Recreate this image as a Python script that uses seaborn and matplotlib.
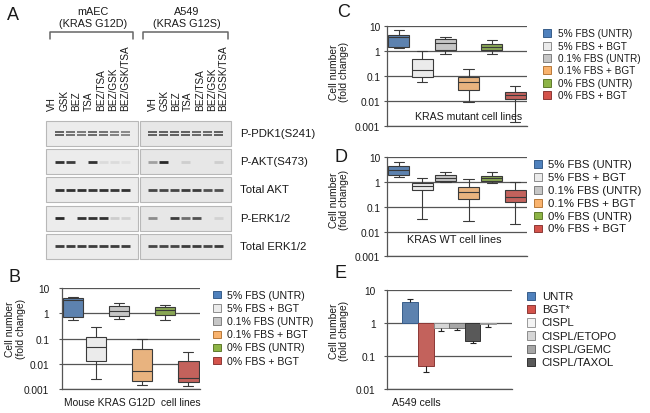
import numpy as np
import pandas as pd
import matplotlib
matplotlib.use("Agg")
import matplotlib.pyplot as plt
import seaborn as sns
from matplotlib.patches import Rectangle
from matplotlib.colors import to_rgba
from matplotlib.ticker import NullLocator

# ---- data -----------------------------------------------------------------
# panel A: western blot, band intensity per lane (0 = no band, 1 = dark)
lanes = ["VH", "GSK", "BEZ", "TSA", "BEZ/TSA", "BEZ/GSK", "BEZ/GSK/TSA"]
cell_groups = ["mAEC\n(KRAS G12D)", "A549\n(KRAS G12S)"]
blot_rows = ["P-PDK1(S241)", "P-AKT(S473)", "Total AKT", "P-ERK1/2", "Total ERK1/2"]
mAEC_bands = [
    [0.85, 0.75, 0.70, 0.80, 0.75, 0.65, 0.60],
    [0.90, 0.85, 0.00, 0.90, 0.08, 0.08, 0.05],
    [0.90, 0.90, 0.90, 0.88, 0.90, 0.88, 0.90],
    [0.95, 0.00, 0.90, 0.90, 0.90, 0.15, 0.12],
    [0.85, 0.85, 0.85, 0.85, 0.85, 0.85, 0.85],
]
a549_bands = [
    [0.85, 0.85, 0.85, 0.85, 0.80, 0.80, 0.85],
    [0.35, 0.95, 0.00, 0.12, 0.00, 0.00, 0.12],
    [0.80, 0.80, 0.80, 0.85, 0.85, 0.75, 0.75],
    [0.45, 0.00, 0.85, 0.60, 0.75, 0.00, 0.10],
    [0.80, 0.80, 0.80, 0.85, 0.85, 0.80, 0.85],
]

# panels B-D: box summaries per condition (low whisker, q1, median, q3, high whisker)
conditions = ["5% FBS (UNTR)", "5% FBS + BGT", "0.1% FBS (UNTR)",
              "0.1% FBS + BGT", "0% FBS (UNTR)", "0% FBS + BGT"]
b_boxes = [
    [0.57, 0.75, 3.44, 4.13, 4.39],
    [0.0026, 0.013, 0.048, 0.116, 0.28],
    [0.59, 0.77, 1.22, 2.05, 2.5],
    [0.00144, 0.00214, 0.005, 0.040, 0.10],
    [0.57, 0.90, 1.34, 1.76, 2.24],
    [0.00136, 0.0019, 0.00265, 0.0126, 0.0286],
]
c_boxes = [
    [1.36, 1.45, 3.9, 4.64, 7.4],
    [0.061, 0.097, 0.185, 0.49, 1.06],
    [0.81, 1.17, 2.15, 3.1, 3.63],
    [0.0091, 0.029, 0.061, 0.091, 0.196],
    [0.76, 1.1, 1.5, 1.9, 2.9],
    [0.00145, 0.0124, 0.018, 0.024, 0.042],
]
d_boxes = [
    [1.63, 1.96, 3.1, 4.6, 6.7],
    [0.031, 0.49, 0.69, 0.885, 1.45],
    [0.97, 1.13, 1.49, 1.85, 2.5],
    [0.0267, 0.215, 0.40, 0.65, 1.28],
    [0.91, 1.1, 1.4, 1.74, 2.5],
    [0.0203, 0.154, 0.25, 0.48, 1.0],
]

# panel E: A549 cells, bars drawn from 1, error bar end values
treatments = ["UNTR", "BGT*", "CISPL", "CISPL/ETOPO", "CISPL/GEMC", "CISPL/TAXOL"]
bar_order = ["UNTR", "BGT*", "CISPL/ETOPO", "CISPL/GEMC", "CISPL/TAXOL", "CISPL"]
bar_fold = [4.34, 0.048, 0.71, 0.71, 0.28, 0.95]
bar_err_end = [5.1, 0.033, 0.58, 0.60, 0.24, 0.73]

y_ticks = [0.001, 0.01, 0.1, 1, 10]
y_tick_labels = ["0.001", "0.01", "0.1", "1", "10"]

# ---- style ----------------------------------------------------------------
box_colors = ["#4f81bd", "#ebebeb", "#c6c6c6", "#f9b36e", "#8db446", "#d4534b"]
box_edges = ["#385d8a", "#8c8c8c", "#7f7f7f", "#b7793a", "#5f7a2c", "#8c3836"]
treat_colors = ["#4f81bd", "#d4534b", "#f4f4f4", "#d6d6d6", "#a6a6a6", "#595959"]
treat_edges = ["#385d8a", "#8c3836", "#9a9a9a", "#8c8c8c", "#6e6e6e", "#333333"]

sns.set_theme(style="white")
plt.rcParams["font.family"] = ["Liberation Sans", "DejaVu Sans"]
TXT = "#1a1a1a"

W, H = 650, 414
fig = plt.figure(figsize=(6.5, 4.14), dpi=100)


def fx(x):
    return x / W


def fy(y):
    return 1 - y / H


def px_axes(x0, y0, x1, y1):
    return fig.add_axes([fx(x0), fy(y1), (x1 - x0) / W, (y1 - y0) / H])


# ---- panel A ----------------------------------------------------------------
axa = px_axes(0, 0, 330, 265)
axa.set_xlim(0, 330)
axa.set_ylim(265, 0)
axa.axis("off")

row_tops = [122, 150, 178, 206.5, 234.5]
row_h = 25
boxes_x = [(46, 137.7), (140, 231)]
lane_x = [np.linspace(59.7, 125.5, 7), np.linspace(152.5, 218, 7)]
label_x = [np.linspace(52, 125, 7), np.linspace(152.5, 223.5, 7)]
bg = ["#ececec", "#e7e7e7"]

for g, (bands, (x0, x1)) in enumerate(zip([mAEC_bands, a549_bands], boxes_x)):
    for r, top in enumerate(row_tops):
        axa.add_patch(Rectangle((x0, top), x1 - x0, row_h, facecolor=bg[g],
                                edgecolor="#b8b8b8", lw=0.8))
        yc = top + row_h / 2
        for lx, val in zip(lane_x[g], bands[r]):
            col = to_rgba("#1e1e1e", val)
            if r == 0:
                axa.hlines([yc - 1.6, yc + 1.6], lx - 4.5, lx + 4.5, color=col, lw=1.1)
            else:
                axa.hlines(yc, lx - 4.5, lx + 4.5, color=col, lw=2.0)
    for lx, name in zip(label_x[g], lanes):
        axa.text(lx, 111, name, rotation=90, ha="center", va="bottom",
                 fontsize=7.2, color=TXT)
    cx = (boxes_x[g][0] + boxes_x[g][1]) / 2 + 1
    axa.text(cx, 18, cell_groups[g], ha="center", va="center", fontsize=7.8,
             color=TXT, linespacing=1.35)

for x0, x1 in [(50, 133), (143, 228)]:
    axa.plot([x0, x0, x1, x1], [40, 33.3, 33.3, 40], color="#666666", lw=1.1)

for r, name in enumerate(blot_rows):
    axa.text(240, row_tops[r] + row_h / 2, name, ha="left", va="center",
             fontsize=8.2, color=TXT)


# ---- panels B-D: box plots ------------------------------------------------
def long_form(boxes):
    rows = [(c, v) for c, five in zip(conditions, boxes) for v in five]
    return pd.DataFrame(rows, columns=["condition", "fold"])


def style_log_axis(ax, lo, pad):
    ax.set_yscale("log")
    ax.set_ylim(lo, 10)
    ticks = [t for t in y_ticks if t >= lo]
    ax.set_yticks(ticks)
    ax.set_yticklabels(y_tick_labels[-len(ticks):])
    ax.yaxis.set_minor_locator(NullLocator())
    ax.set_xticks([])
    ax.set_xlabel("")
    ax.set_ylabel("")
    ax.tick_params(axis="y", length=2, width=0.8, color="#555555", pad=pad,
                   labelsize=7.3, labelcolor=TXT, left=True)
    for s in ["top", "right"]:
        ax.spines[s].set_visible(False)
    for s in ["left", "bottom"]:
        ax.spines[s].set_color("#555555")
        ax.spines[s].set_linewidth(0.9)
    ax.grid(axis="y", color="#555555", lw=0.9)
    ax.set_axisbelow(True)


def draw_boxes(ax, boxes, width, pad):
    sns.boxplot(data=long_form(boxes), x="condition", y="fold", hue="condition",
                order=conditions, hue_order=conditions, palette=box_colors,
                width=width, whis=(0, 100), linecolor="#3a3a3a", linewidth=0.8,
                log_scale=True, legend=False, ax=ax)
    ax.set_xlim(-0.5, 5.5)
    style_log_axis(ax, 0.001, pad)


def legend(labels, colors, edges, sq_x, sq_w, text_x, y0, step, fs):
    # legend keys placed in figure pixels, one row per label
    for i, (lab, c, e) in enumerate(zip(labels, colors, edges)):
        y = y0 + i * step
        fig.patches.append(Rectangle((fx(sq_x), fy(y + sq_w / 2)), sq_w / W, sq_w / H,
                                     transform=fig.transFigure, facecolor=c,
                                     edgecolor=e, lw=0.7))
        fig.text(fx(text_x), fy(y), lab, ha="left", va="center", fontsize=fs,
                 color=TXT)


axb = px_axes(61.7, 289.3, 200, 390)
draw_boxes(axb, b_boxes, 0.87, 7)
legend(conditions, box_colors, box_edges, 213, 7.5, 227, 295.7, 13.2, 7.6)

axc = px_axes(387.3, 27.3, 526.7, 127.3)
draw_boxes(axc, c_boxes, 0.9, 3)
legend(conditions, box_colors, box_edges, 543.3, 8, 558.3, 34.3, 12.35, 7.2)

axd = px_axes(387.3, 158.3, 526.7, 257.3)
draw_boxes(axd, d_boxes, 0.9, 3)
legend(conditions, box_colors, box_edges, 534, 7.7, 548.3, 165, 12.9, 8.2)

# ---- panel E: bars from 1 on a log axis -----------------------------------
axe = px_axes(386.7, 290.7, 511.7, 390)
df_e = pd.DataFrame({"cells": "A549 cells", "treatment": bar_order, "fold": bar_fold})
df_e["height"] = df_e["fold"] - 1
sns.barplot(data=df_e, x="cells", y="height", hue="treatment", hue_order=bar_order,
            palette=dict(zip(treatments, treat_colors)), width=0.75, bottom=1,
            errorbar=None, legend=False, linewidth=0.7, ax=axe)
edge_map = dict(zip(treatments, treat_edges))
xs = []
for patch, name in zip(axe.patches, bar_order):
    patch.set_edgecolor(edge_map[name])
    xs.append(patch.get_x() + patch.get_width() / 2)
axe.vlines(xs, bar_fold, bar_err_end, color="#222222", lw=0.8)
axe.plot(xs, bar_err_end, ls="none", marker="_", ms=4, mew=0.8, color="#222222")
axe.set_xlim(-0.5, 0.5)
style_log_axis(axe, 0.01, 6)
legend(treatments, treat_colors, treat_edges, 526.7, 8.3, 541.7, 297, 13.2, 8.2)

# ---- text ------------------------------------------------------------------
for letter, x, y in [("A", 7, 20), ("B", 8, 282), ("C", 337, 17),
                     ("D", 335, 162), ("E", 335, 278)]:
    fig.text(fx(x), fy(y), letter, fontsize=13, color=TXT, va="baseline")

for x, y in [(15.5, 329), (339, 72), (339, 200), (339, 331)]:
    fig.text(fx(x), fy(y), "Cell number\n(fold change)", rotation=90, ha="center",
             va="center", fontsize=7.4, color=TXT, multialignment="center",
             linespacing=1.1)

fig.text(fx(132), fy(403), "Mouse KRAS G12D  cell lines", ha="center", va="center",
         fontsize=7.4, color=TXT)
fig.text(fx(416), fy(403), "A549 cells", ha="center", va="center", fontsize=7.6,
         color=TXT)
fig.text(fx(415), fy(117.5), "KRAS mutant cell lines", ha="left", va="center",
         fontsize=7.6, color=TXT)
fig.text(fx(407), fy(240.3), "KRAS WT cell lines", ha="left", va="center",
         fontsize=7.8, color=TXT)

fig.savefig("out.png", dpi=100)
